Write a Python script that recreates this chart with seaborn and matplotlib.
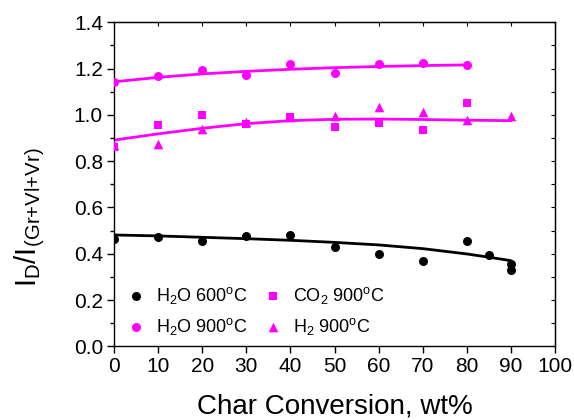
import matplotlib
matplotlib.use("Agg")
import matplotlib.pyplot as plt
from matplotlib.ticker import MultipleLocator, FormatStrFormatter
import seaborn as sns

# Measured I_D/I_(Gr+Vl+Vr) ratios versus char conversion
h2o600_x = [0, 10, 20, 30, 40, 50, 60, 70, 80, 85, 90, 90]
h2o600_y = [0.462, 0.472, 0.456, 0.478, 0.480, 0.431, 0.397, 0.367, 0.454, 0.393, 0.357, 0.330]

h2o900_x = [0, 10, 20, 30, 40, 50, 60, 70, 80]
h2o900_y = [1.143, 1.168, 1.195, 1.171, 1.219, 1.181, 1.219, 1.226, 1.214]

co2900_x = [0, 10, 20, 30, 40, 50, 60, 70, 80]
co2900_y = [0.861, 0.958, 1.000, 0.962, 0.990, 0.949, 0.965, 0.936, 1.050]

h2900_x = [0, 10, 20, 30, 40, 50, 60, 70, 80, 90]
h2900_y = [0.870, 0.876, 0.940, 0.969, 0.992, 0.995, 1.035, 1.011, 0.978, 0.997]

# Trend curves
fit600_x = [0, 10, 20, 30, 40, 50, 60, 70, 80, 85, 90]
fit600_y = [0.481, 0.477, 0.471, 0.465, 0.458, 0.449, 0.438, 0.422, 0.399, 0.385, 0.370]

fit900_x = [0, 10, 20, 30, 40, 50, 60, 70, 80]
fit900_y = [1.143, 1.162, 1.177, 1.188, 1.197, 1.204, 1.209, 1.213, 1.216]

fitlow_x = [0, 10, 20, 30, 40, 50, 60, 70, 80, 90]
fitlow_y = [0.891, 0.918, 0.942, 0.962, 0.975, 0.981, 0.982, 0.980, 0.977, 0.975]

labels = ["H$_2$O 600$^o$C", "H$_2$O 900$^o$C",
          "CO$_2$ 900$^o$C", "H$_2$ 900$^o$C"]

sns.set_style("white")
plt.rcParams["font.family"] = ["Liberation Sans", "DejaVu Sans"]
plt.rcParams["mathtext.fontset"] = "custom"
plt.rcParams["mathtext.rm"] = "Liberation Sans"
plt.rcParams["mathtext.it"] = "Liberation Sans"
plt.rcParams["mathtext.default"] = "regular"
for key in ["text.color", "axes.labelcolor", "xtick.color", "ytick.color", "axes.edgecolor"]:
    plt.rcParams[key] = "black"

MAG = "#FF00FF"

fig = plt.figure(figsize=(5.74, 4.20), dpi=100)
ax = fig.add_axes([0.1986, 0.1755, 0.7684, 0.7714])

# trend curves
for xs, ys, c in [(fit600_x, fit600_y, "black"), (fit900_x, fit900_y, MAG), (fitlow_x, fitlow_y, MAG)]:
    sns.lineplot(x=xs, y=ys, ax=ax, color=c, lw=2.0, sort=False, legend=False)

# measured points
series = [
    (h2o600_x, h2o600_y, "black", "o", 42, labels[0]),
    (h2o900_x, h2o900_y, MAG, "o", 42, labels[1]),
    (co2900_x, co2900_y, MAG, "s", 30, labels[2]),
    (h2900_x, h2900_y, MAG, "^", 48, labels[3]),
]
for xs, ys, c, m, s, lab in series:
    sns.scatterplot(x=xs, y=ys, ax=ax, color=c, marker=m, s=s, linewidth=0, label=lab, zorder=3)

ax.set_xlim(0, 100)
ax.set_ylim(0, 1.4)
ax.xaxis.set_major_locator(MultipleLocator(10))
ax.yaxis.set_major_locator(MultipleLocator(0.2))
ax.yaxis.set_minor_locator(MultipleLocator(0.1))
ax.yaxis.set_major_formatter(FormatStrFormatter("%.1f"))

ax.tick_params(axis="both", which="major", direction="out", length=5, width=1, labelsize=15, pad=3)
ax.tick_params(axis="y", which="minor", direction="out", length=3, width=1, left=True)
ax.tick_params(axis="x", which="major", bottom=True)
ax.tick_params(axis="y", which="major", left=True)

for sp in ax.spines.values():
    sp.set_linewidth(1.0)

# inward ticks along top and right edges
top = ax.secondary_xaxis("top")
top.xaxis.set_major_locator(MultipleLocator(10))
top.tick_params(direction="in", length=3, labeltop=False)
right = ax.secondary_yaxis("right")
right.yaxis.set_major_locator(MultipleLocator(0.1))
right.tick_params(direction="in", length=3, labelright=False)

ax.set_xlabel("Char Conversion, wt%", fontsize=20, labelpad=12)
ax.set_ylabel(r"$I_D/I_{(Gr{+}Vl{+}Vr)}$", fontsize=21)
ax.yaxis.set_label_coords(-0.152, 0.40)

leg = ax.legend(loc="lower left", bbox_to_anchor=(0.0, -0.01), ncol=2, frameon=False,
                fontsize=13, handlelength=1.0, handletextpad=0.6, columnspacing=0.95,
                labelspacing=0.55, borderaxespad=0.3, markerscale=1.0)

fig.savefig("out.png", dpi=100)
